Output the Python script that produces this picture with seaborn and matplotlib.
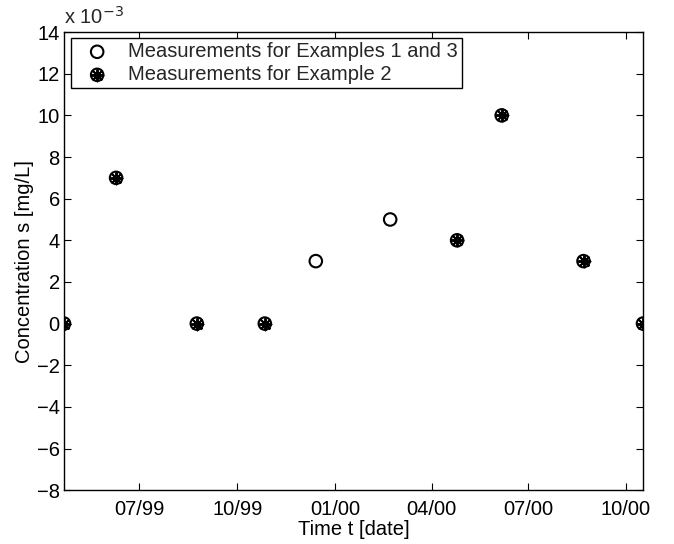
import pandas as pd
import matplotlib
matplotlib.use("Agg")
import matplotlib.pyplot as plt
import matplotlib.dates as mdates
import seaborn as sns

# --- DATA (concentration in units of 1e-3 mg/L) ---
dates_all = ["1999-04-21", "1999-06-09", "1999-08-24", "1999-10-27", "1999-12-14",
             "2000-02-22", "2000-04-25", "2000-06-06", "2000-08-22", "2000-10-17"]
conc_all = [0, 7, 0, 0, 3, 5, 4, 10, 3, 0]

dates_ex2 = ["1999-04-21", "1999-06-09", "1999-08-24", "1999-10-27",
             "2000-04-25", "2000-06-06", "2000-08-22", "2000-10-17"]
conc_ex2 = [0, 7, 0, 0, 4, 10, 3, 0]

label_all = "Measurements for Examples 1 and 3"
label_ex2 = "Measurements for Example 2"

df_all = pd.DataFrame({"date": pd.to_datetime(dates_all), "conc": conc_all})
df_ex2 = pd.DataFrame({"date": pd.to_datetime(dates_ex2), "conc": conc_ex2})

# --- STYLE ---
sns.set_style("ticks")
plt.rcParams["font.family"] = ["Liberation Sans", "DejaVu Sans"]
plt.rcParams["xtick.direction"] = "in"
plt.rcParams["ytick.direction"] = "in"
fs = 14.5

fig = plt.figure(figsize=(6.74, 5.44), dpi=100)
ax = fig.add_axes([0.095, 0.099, 0.859, 0.842])

sns.scatterplot(data=df_all, x="date", y="conc", ax=ax, marker="o", s=81,
                facecolor="none", edgecolor="black", linewidth=1.5, zorder=3)
sns.scatterplot(data=df_ex2, x="date", y="conc", ax=ax, marker=(8, 2, 0), s=72,
                color="black", linewidth=1.4, zorder=4)

h_circle = ax.collections[0]
h_star = ax.collections[1]

ax.set_xlim(df_all["date"].min(), df_all["date"].max())
ax.set_ylim(-8, 14)
ax.set_yticks(range(-8, 15, 2))
ax.set_yticklabels([str(v).replace("-", "\u2212") for v in range(-8, 15, 2)])
ax.xaxis.set_major_locator(mdates.MonthLocator(bymonth=[1, 4, 7, 10]))
ax.xaxis.set_major_formatter(mdates.DateFormatter("%m/%y"))

ax.tick_params(axis="both", which="major", labelsize=fs, length=5, width=0.8,
               top=True, right=True, color="black", labelcolor="black", pad=3)
ax.tick_params(axis="x", pad=7)
for sp in ax.spines.values():
    sp.set_visible(True)
    sp.set_color("black")
    sp.set_linewidth(1.0)

ax.set_xlabel("Time t [date]", fontsize=fs, color="black", labelpad=1)
ax.set_ylabel("Concentration s [mg/L]", fontsize=fs, color="black", labelpad=2)

ax.text(0.0, 1.01, r"x 10$^{-3}$", transform=ax.transAxes, fontsize=fs,
        ha="left", va="bottom")

leg = ax.legend([h_circle, (h_circle, h_star)], [label_all, label_ex2],
                loc="upper left", bbox_to_anchor=(0.012, 0.987), fontsize=fs,
                frameon=True, fancybox=False, framealpha=1, edgecolor="black",
                borderpad=0.2, handletextpad=0.45, labelspacing=0.2,
                borderaxespad=0, handlelength=2.2)
leg.get_frame().set_linewidth(1.0)

plt.savefig("out.png", dpi=100)
